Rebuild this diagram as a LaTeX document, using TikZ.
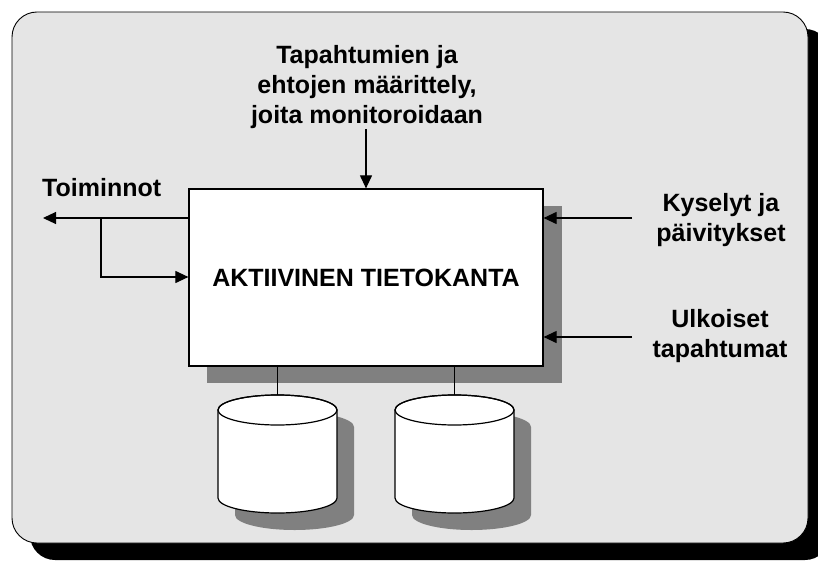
\documentclass[tikz,border=0pt]{standalone}
\usepackage{fontspec}
\setmainfont{Liberation Sans}
\usetikzlibrary{arrows.meta}
\definecolor{panel}{RGB}{229,229,229}
\definecolor{shadowgray}{RGB}{128,128,128}
\begin{document}
\begin{tikzpicture}[x=1pt,y=-1pt,
  lbl/.style={font=\bfseries\fontsize{25}{30}\selectfont, align=center, inner sep=0pt},
  conn/.style={line width=1.1pt, black},
  arr/.style={conn, -{Triangle[length=13pt,width=12pt]}},
  edge/.style={line width=1.2pt, draw=black}]
  \clip (0,0) rectangle (818,564);

  % framed panel with its drop shadow
  \fill[black, rounded corners=25pt] (30,29) rectangle (830,560);
  \filldraw[fill=panel, draw=black, line width=0.9pt, rounded corners=25pt] (12,12) rectangle (808,543);

  % shadow of the central box
  \fill[shadowgray] (207,206) rectangle (562,383);

  % storage cylinders with their shadows
  \foreach \cx/\nm in {277.5/cyl1, 454.5/cyl2} {
    \fill[shadowgray] (\cx-59.5+17,427) -- (\cx-59.5+17,515)
      arc[start angle=180, end angle=0, x radius=59.5, y radius=15]
      -- (\cx+59.5+17,427)
      arc[start angle=0, end angle=-180, x radius=59.5, y radius=15] -- cycle;
    \filldraw[edge, fill=white] (\cx-59.5,410) -- (\cx-59.5,498)
      arc[start angle=180, end angle=0, x radius=59.5, y radius=15]
      -- (\cx+59.5,410)
      arc[start angle=0, end angle=-180, x radius=59.5, y radius=15] -- cycle;
    \draw[edge] (\cx,410) ellipse [x radius=59.5, y radius=15];
    \coordinate (\nm) at (\cx,395);
  }

  % central box
  \node[edge, fill=white, minimum width=354pt, minimum height=177pt, lbl]
    (db) at (366,277.5) {AKTIIVINEN TIETOKANTA};

  % labels
  \node[lbl] (rules) at (367,87) {Tapahtumien ja\\ehtojen määrittely,\\joita monitoroidaan};
  \node[lbl, anchor=base west] (act) at (42,196) {Toiminnot};
  \node[lbl] (query) at (721,220) {Kyselyt ja\\päivitykset};
  \node[lbl] (ext) at (720,336) {Ulkoiset\\tapahtumat};

  % connector end points
  \coordinate (out) at (43,218);
  \coordinate (split) at (101,218);
  \coordinate (loop) at (101,277);
  \coordinate (qin) at (632,218);
  \coordinate (ein) at (632,337);

  % connectors
  \draw[arr] (db.north |- rules.south) -- (db.north);
  \draw[arr] (db.west |- split) -- (out);
  \draw[arr] (split) -- (loop) -- (db.west |- loop);
  \draw[arr] (qin) -- (db.east |- qin);
  \draw[arr] (ein) -- (db.east |- ein);
  \draw[conn] (db.south -| cyl1) -- (cyl1);
  \draw[conn] (db.south -| cyl2) -- (cyl2);

  \useasboundingbox (0,0) rectangle (818,564);
\end{tikzpicture}
\end{document}
